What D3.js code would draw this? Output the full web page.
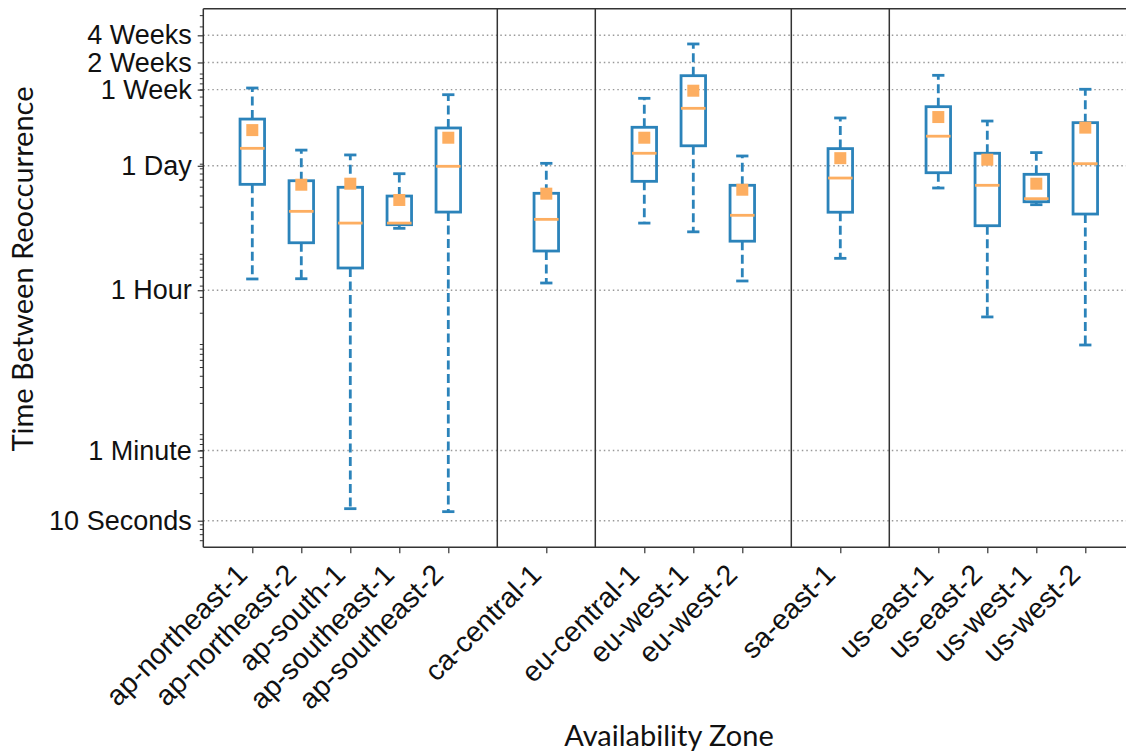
<!DOCTYPE html>
<html>
<head>
<meta charset="utf-8">
<script src="https://cdn.jsdelivr.net/npm/d3@7"></script>
<style>
  body { margin: 0; background: #fff; }
  svg { display: block; font-family: "Source Sans Pro", Lato, "Noto Sans", sans-serif; }
</style>
</head>
<body>
<svg id="box" width="1126" height="755"></svg>
<script>
// availability zones and where they sit on the x axis (gaps hold the separators)
const zones = ["ap-northeast-1", "ap-northeast-2", "ap-south-1", "ap-southeast-1", "ap-southeast-2",
  "ca-central-1", "eu-central-1", "eu-west-1", "eu-west-2", "sa-east-1",
  "us-east-1", "us-east-2", "us-west-1", "us-west-2"]
const positions = [1, 2, 3, 4, 5, 7, 9, 10, 11, 13, 15, 16, 17, 18]
const separators = [6, 8, 12, 14]

// box plot stats, all in seconds
const whiskerLow = [4800, 4830, 13.6, 17500, 12.6, 4330, 20000, 16000, 4560, 8130, 49000, 1820, 32000, 889]
const q1 = [53800, 12100, 6350, 19200, 26500, 9800, 58100, 144000, 12600, 26400, 72400, 18700, 34500, 25200]
const median = [135000, 27000, 20000, 20000, 85300, 22000, 119000, 375000, 24400, 63200, 184000, 52500, 37300, 91200]
const q3 = [285000, 59000, 49900, 39900, 227000, 42800, 231000, 863000, 52500, 134000, 391000, 119000, 69500, 260000]
const whiskerHigh = [630000, 129000, 114000, 70600, 531000, 92000, 484000, 1940000, 111000, 293000, 871000, 271000, 121000, 610000]
const mean = [215000, 53300, 54700, 36100, 177000, 42400, 177000, 588000, 46900, 105000, 300000, 101000, 54700, 229000]

// y tick values (seconds) and their labels
const tickValues = [10, 60, 3600, 86400, 604800, 1209600, 2419200]
const tickLabels = ["10 Seconds", "1 Minute", "1 Hour", "1 Day", "1 Week", "2 Weeks", "4 Weeks"]

const blue = "#2b83ba"
const orange = "#fdae61"
const dark = "#333"
const tickFont = 27
const xTickFont = 28.5
const titleFont = 29
const lw = 2.8

const svg = d3.select("#box")
const margin = {top: 8.7, left: 203.3}
const width = 931
const height = 538.6

const data = zones.map((z, i) => ({
  zone: z, pos: positions[i], lo: whiskerLow[i], q1: q1[i], med: median[i],
  q3: q3[i], hi: whiskerHigh[i], mean: mean[i]
}))

const g = svg.append("g")
  .attr("transform", "translate(" + margin.left + "," + margin.top + ")")

//scales
const x = d3.scaleLinear().domain([0, 19]).range([0, width])
const y = d3.scaleLog().domain([5.07, 4.775e6]).range([height, 0])

//dotted grid lines at the labelled ticks
g.append("g")
  .selectAll("line")
  .data(tickValues)
  .enter()
  .append("line")
  .attr("x1", 0)
  .attr("x2", width)
  .attr("y1", d => y(d))
  .attr("y2", d => y(d))
  .attr("stroke", "#999")
  .attr("stroke-width", 1.4)
  .attr("stroke-dasharray", "1.5,3")

//separator lines between regions
g.append("g")
  .selectAll("line")
  .data(separators)
  .enter()
  .append("line")
  .attr("x1", d => x(d))
  .attr("x2", d => x(d))
  .attr("y1", 0)
  .attr("y2", height)
  .attr("stroke", dark)
  .attr("stroke-width", 1.5)

const bw = x(0.5) - x(0)
const cw = x(0.25) - x(0)

const boxes = g.append("g")
  .selectAll("g")
  .data(data)
  .enter()
  .append("g")

//dashed whiskers
boxes.append("line")
  .attr("x1", d => x(d.pos)).attr("x2", d => x(d.pos))
  .attr("y1", d => y(d.q3)).attr("y2", d => y(d.hi))
  .attr("stroke", blue).attr("stroke-width", lw).attr("stroke-dasharray", "9,4.5")
boxes.append("line")
  .attr("x1", d => x(d.pos)).attr("x2", d => x(d.pos))
  .attr("y1", d => y(d.q1)).attr("y2", d => y(d.lo))
  .attr("stroke", blue).attr("stroke-width", lw).attr("stroke-dasharray", "9,4.5")

//caps
boxes.append("line")
  .attr("x1", d => x(d.pos) - cw / 2).attr("x2", d => x(d.pos) + cw / 2)
  .attr("y1", d => y(d.hi)).attr("y2", d => y(d.hi))
  .attr("stroke", blue).attr("stroke-width", lw)
boxes.append("line")
  .attr("x1", d => x(d.pos) - cw / 2).attr("x2", d => x(d.pos) + cw / 2)
  .attr("y1", d => y(d.lo)).attr("y2", d => y(d.lo))
  .attr("stroke", blue).attr("stroke-width", lw)

//box
boxes.append("rect")
  .attr("x", d => x(d.pos) - bw / 2)
  .attr("width", bw)
  .attr("y", d => y(d.q3))
  .attr("height", d => y(d.q1) - y(d.q3))
  .attr("fill", "none")
  .attr("stroke", blue)
  .attr("stroke-width", lw)

//median
boxes.append("line")
  .attr("x1", d => x(d.pos) - bw / 2).attr("x2", d => x(d.pos) + bw / 2)
  .attr("y1", d => y(d.med)).attr("y2", d => y(d.med))
  .attr("stroke", orange).attr("stroke-width", lw)

//mean marker
const ms = 12
boxes.append("rect")
  .attr("x", d => x(d.pos) - ms / 2)
  .attr("y", d => y(d.mean) - ms / 2)
  .attr("width", ms)
  .attr("height", ms)
  .attr("fill", orange)

//y axis with custom labels
const yAxis = g.append("g")
  .call(d3.axisLeft(y).tickValues(tickValues).tickFormat((d, i) => tickLabels[i]).tickSizeOuter(0).tickSize(5.6).tickPadding(6))
yAxis.select(".domain").remove()
yAxis.selectAll("line").attr("stroke", dark).attr("stroke-width", 1.2)
yAxis.selectAll("text").attr("font-size", tickFont).attr("fill", "#111").attr("font-family", null)

//minor ticks at 2..9 of each decade
const minor = []
for (let e = 0; e <= 6; e++) {
  for (let m = 2; m <= 9; m++) {
    const v = m * Math.pow(10, e)
    if (v >= y.domain()[0] && v <= y.domain()[1]) minor.push(v)
  }
}
g.append("g")
  .selectAll("line")
  .data(minor)
  .enter()
  .append("line")
  .attr("x1", -3.5).attr("x2", 0)
  .attr("y1", d => y(d)).attr("y2", d => y(d))
  .attr("stroke", dark).attr("stroke-width", 1)

//x axis ticks and rotated labels
const xAxis = g.append("g")
  .attr("transform", "translate(0," + height + ")")
  .call(d3.axisBottom(x).tickValues(positions).tickFormat((d, i) => zones[i]).tickSizeOuter(0).tickSize(6))
xAxis.select(".domain").remove()
xAxis.selectAll("line").attr("stroke", dark).attr("stroke-width", 1.2)
xAxis.selectAll("text")
  .attr("font-size", xTickFont)
  .attr("fill", "#111")
  .attr("font-family", null)
  .attr("text-anchor", "end")
  .attr("dy", "0.35em")
  .attr("y", 0)
  .attr("transform", "translate(-11,22) rotate(-45)")

//spines
g.append("line").attr("x1", 0).attr("x2", 0).attr("y1", 0).attr("y2", height)
  .attr("stroke", dark).attr("stroke-width", 1.5)
g.append("line").attr("x1", 0).attr("x2", width).attr("y1", height).attr("y2", height)
  .attr("stroke", dark).attr("stroke-width", 1.5)
g.append("line").attr("x1", 0).attr("x2", width).attr("y1", 0).attr("y2", 0)
  .attr("stroke", dark).attr("stroke-width", 1.5)

//axis titles
svg.append("text")
  .attr("x", 669)
  .attr("y", 746)
  .attr("text-anchor", "middle")
  .attr("font-size", titleFont)
  .attr("fill", "#111")
  .text("Availability Zone")

svg.append("text")
  .attr("transform", "translate(33,269) rotate(-90)")
  .attr("text-anchor", "middle")
  .attr("font-size", titleFont)
  .attr("fill", "#111")
  .text("Time Between Reoccurrence")
</script>
</body>
</html>
